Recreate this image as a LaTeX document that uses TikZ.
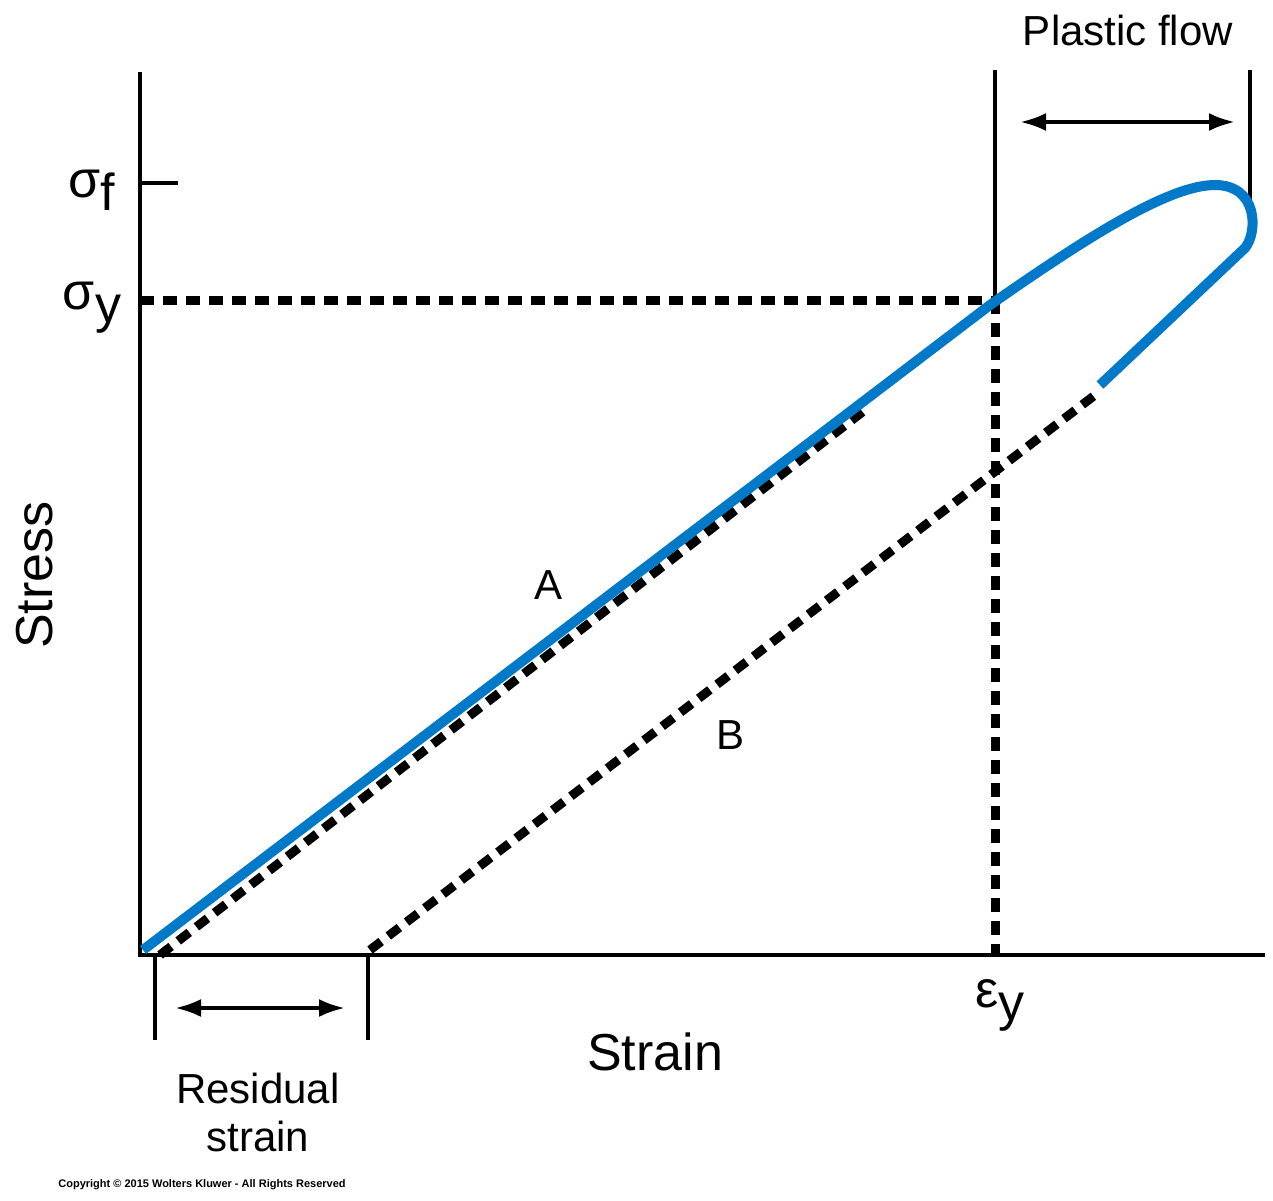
\documentclass[tikz,border=0pt]{standalone}
\usepackage{fontspec}
\setmainfont{Liberation Sans}
\usetikzlibrary{arrows.meta}
\definecolor{curveblue}{RGB}{0,122,200}
\newcommand{\symsub}[2]{#1\raisebox{-0.25em}{#2}}
\begin{document}
\begin{tikzpicture}[x=1pt,y=-1pt,
    axis/.style={line width=4pt},
    dashline/.style={line width=9pt,dash pattern=on 14pt off 9pt},
    lbl/.style={font=\fontsize{42}{48}\selectfont},
    biglbl/.style={font=\fontsize{52}{58}\selectfont}]
    \useasboundingbox (0,0) rectangle (1273,1200);
    % Axes
    \coordinate (O) at (140,955);
    \draw[axis] (140,72) -- (O) -- (1265,955);
    \node[biglbl, rotate=90] (stress) at (35,575) {Stress};
    \node[biglbl] (strain) at (655,1052) {Strain};
    
    % Stress levels
    \draw[axis] (140,183) -- (178,183);
    \node[biglbl] (sf) at (92,190) {\symsub{σ}{f}};
    \node[biglbl] (sy) at (92,308) {\symsub{σ}{y}};
    \draw[dashline] (140,300) -- (995,300);
    
    % Yield strain
    \draw[axis] (995,70) -- (995,300);
    \draw[dashline] (995,300) -- (995,955);
    \node[biglbl] (ey) at (1000,1005) {\symsub{ε}{y}};
    
    % Plastic flow
    \draw[axis, {Latex[length=26pt,width=18pt]}-{Latex[length=26pt,width=18pt]}] (1020,122) -- (1235,122);
    \draw[axis] (1250,70) -- (1250,235);
    \node[lbl] (plastic) at (1128,30) {Plastic flow};
    
    % Elastic lines
    \draw[dashline] (160,955) -- (865,410);
    \draw[dashline] (370,950) -- (1095,395);
    
    % Loading curve
    \draw[curveblue, line width=10pt] (143,950) -- (990,305)
        .. controls (1090,235) and (1170,185) .. (1215,185)
        .. controls (1258,185) and (1258,232) .. (1245,248) -- (1100,385);
    \node[lbl] (A) at (548,585) {A};
    \node[lbl] (B) at (730,735) {B};
    
    % Residual strain
    \draw[axis] (155,955) -- (155,1040);
    \draw[axis] (368,955) -- (368,1040);
    \draw[axis, {Latex[length=26pt,width=18pt]}-{Latex[length=26pt,width=18pt]}] (175,1008) -- (345,1008);
    \node[lbl, align=center] (resid) at (258,1112) {Residual\\strain};
    
    \node[font=\fontsize{11}{12}\selectfont\bfseries] (copy) at (202,1185) {Copyright © 2015 Wolters Kluwer - All Rights Reserved};
\end{tikzpicture}
\end{document}
